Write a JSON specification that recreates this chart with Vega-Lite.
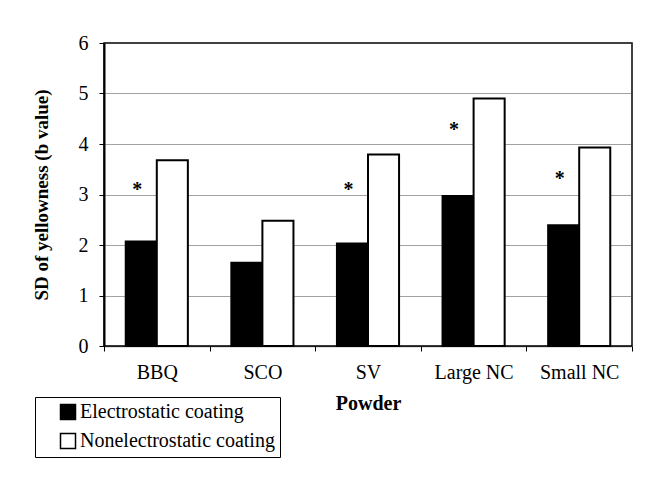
{
  "$schema": "https://vega.github.io/schema/vega-lite/v6.json",
  "autosize": {"type": "none"},
  "padding": {"left": 104, "top": 43, "right": 26, "bottom": 131},
  "width": 528,
  "height": 303,
  "background": "#ffffff",
  "config": {
    "font": "Liberation Serif",
    "view": {"stroke": "#000", "strokeWidth": 1.5},
    "axis": {"labelFont": "Liberation Serif", "titleFont": "Liberation Serif", "labelColor": "#000", "titleColor": "#000", "labelFontSize": 20, "titleFontSize": 20, "titleFontWeight": "bold"}
  },
  "datasets": {
    "bars": [
      {"powder": "BBQ", "coating": "Electrostatic coating", "value": 2.07},
      {"powder": "BBQ", "coating": "Nonelectrostatic coating", "value": 3.68},
      {"powder": "SCO", "coating": "Electrostatic coating", "value": 1.65},
      {"powder": "SCO", "coating": "Nonelectrostatic coating", "value": 2.48},
      {"powder": "SV", "coating": "Electrostatic coating", "value": 2.03},
      {"powder": "SV", "coating": "Nonelectrostatic coating", "value": 3.79},
      {"powder": "Large NC", "coating": "Electrostatic coating", "value": 2.97},
      {"powder": "Large NC", "coating": "Nonelectrostatic coating", "value": 4.9},
      {"powder": "Small NC", "coating": "Electrostatic coating", "value": 2.39},
      {"powder": "Small NC", "coating": "Nonelectrostatic coating", "value": 3.93}
    ],
    "stars": [
      {"powder": "BBQ", "coating": "Electrostatic coating", "y": 3.19, "label": "*"},
      {"powder": "SV", "coating": "Electrostatic coating", "y": 3.19, "label": "*"},
      {"powder": "Large NC", "coating": "Electrostatic coating", "y": 4.38, "label": "*"},
      {"powder": "Small NC", "coating": "Electrostatic coating", "y": 3.41, "label": "*"}
    ]
  },
  "encoding": {
    "x": {
      "field": "powder",
      "type": "nominal",
      "sort": ["BBQ", "SCO", "SV", "Large NC", "Small NC"],
      "scale": {"paddingInner": 0, "paddingOuter": 0},
      "axis": {
        "title": "Powder",
        "labelAngle": 0,
        "tickBand": "extent",
        "tickSize": 5,
        "tickColor": "#000",
        "domainColor": "#000",
        "domainDash": [1, 1],
        "domainWidth": 1.5,
        "labelPadding": 11,
        "titlePadding": 11,
        "grid": false
      }
    },
    "xOffset": {
      "field": "coating",
      "type": "nominal",
      "scale": {"paddingOuter": 0.7, "paddingInner": 0}
    }
  },
  "layer": [
    {
      "data": {"name": "bars"},
      "mark": {"type": "bar", "stroke": "#000", "strokeWidth": 2},
      "encoding": {
        "y": {
          "field": "value",
          "type": "quantitative",
          "scale": {"domain": [0, 6], "nice": false},
          "axis": {
            "title": "SD of yellowness (b value)",
            "titleFontSize": 19,
            "values": [0, 1, 2, 3, 4, 5, 6],
            "tickSize": 5,
            "tickColor": "#000",
            "domainColor": "#000",
            "domainWidth": 2,
            "labelPadding": 11,
            "titlePadding": 27,
            "grid": true,
            "gridColor": "#444",
            "gridDash": [1, 1],
            "gridWidth": 1
          }
        },
        "fill": {
          "field": "coating",
          "type": "nominal",
          "scale": {"domain": ["Electrostatic coating", "Nonelectrostatic coating"], "range": ["#000000", "#ffffff"]},
          "legend": {
            "title": null,
            "orient": "none",
            "legendX": -69,
            "legendY": 354,
            "strokeColor": "#000",
            "padding": 5,
            "symbolType": "square",
            "symbolSize": 225,
            "symbolStrokeColor": "#000",
            "symbolStrokeWidth": 1.5,
            "symbolOffset": 18,
            "labelFont": "Liberation Serif",
            "labelFontSize": 20,
            "labelColor": "#000",
            "labelOffset": 2,
            "labelLimit": 400,
            "rowPadding": 7
          }
        }
      }
    },
    {
      "data": {"name": "stars"},
      "mark": {"type": "text", "font": "Liberation Serif", "fontSize": 20, "fontWeight": "bold", "baseline": "middle", "dx": -4, "dy": 5, "color": "#000"},
      "encoding": {
        "y": {"field": "y", "type": "quantitative"},
        "text": {"field": "label"}
      }
    }
  ]
}
